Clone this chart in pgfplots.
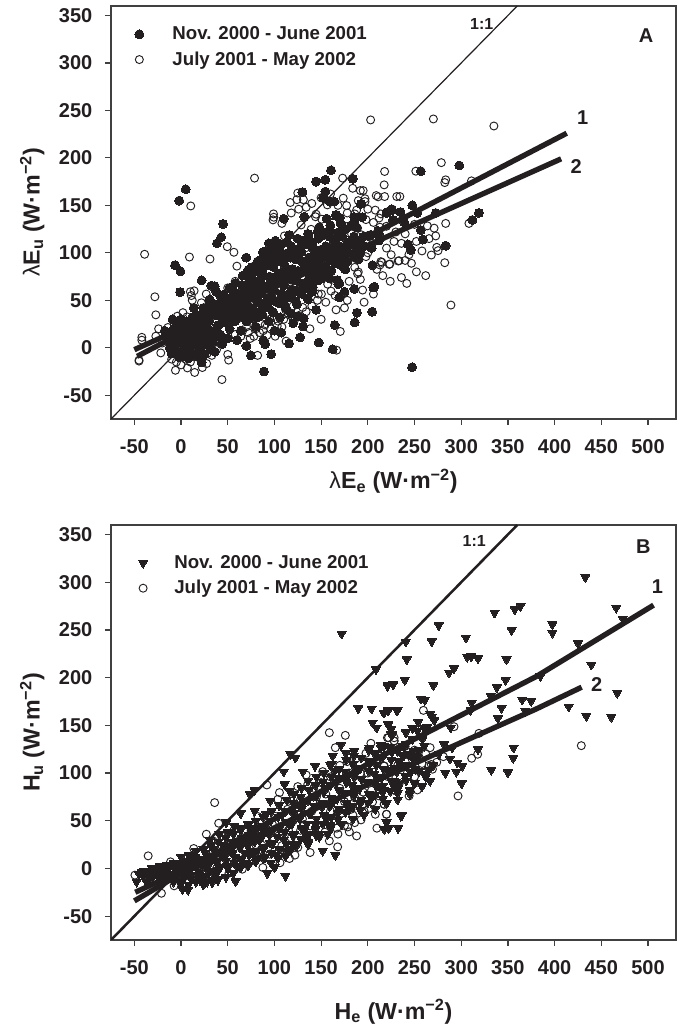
\documentclass[border=0pt]{standalone}
\usepackage{pgfplots}
\pgfplotsset{compat=1.18}
\usepackage{fontspec}
\setmainfont{Liberation Sans}
\definecolor{ink}{HTML}{231F20}
\pgfplotsset{
  panel/.style={
    scale only axis, width=423.75pt, at={(83.25pt,#1)}, anchor=south west,
    xmin=-75, xmax=530, ymin=-75, ymax=360,
    xtick={-50,0,...,500}, ytick={-50,0,...,350},
    axis line style={draw=black!75, line width=1.1pt},
    tick align=outside, tick pos=lower, major tick length=4.5pt,
    tick style={draw=black!75, line width=0.9pt},
    ticklabel style={font=\fontsize{15}{15}\selectfont\bfseries, text=ink},
    /pgf/number format/assume math mode=true,
    /pgf/number format/1000 sep={},
    xticklabel style={yshift=-7pt},
    yticklabel style={xshift=-6pt},
    clip=true,
    legend cell align=left,
    legend style={draw=none, fill=none, font=\fontsize{14}{14}\selectfont\bfseries, text=ink,
      row sep=3.5pt},
  },
  op/.style={only marks, mark=o, mark size=3pt, mark options={draw=ink, line width=0.7pt, fill=none}},
  fc/.style={only marks, mark=*, mark size=3.35pt, mark options={draw=ink, fill=ink, line width=0pt}},
  tr/.style={only marks, mark=triangle*, mark size=3.9pt, mark options={draw=ink, fill=ink, line width=0pt, rotate=180}},
}
\begin{document}
\begin{tikzpicture}[x=1pt,y=1pt]
\useasboundingbox (0,0) rectangle (508.5pt,768pt);
% ---------- Panel A ----------
\begin{axis}[panel=453.75pt, height=309.75pt,
  legend style={at={(axis cs:-54,344)}, anchor=north west},
  xlabel={\fontsize{17.4}{17}\selectfont\bfseries{\mdseries λ}E\textsubscript{e} (W·m\textsuperscript{−2})},
  ylabel={\fontsize{17.4}{17}\selectfont\bfseries{\mdseries λ}E\textsubscript{u} (W·m\textsuperscript{−2})},
  xlabel style={text=ink, yshift=-5pt}, ylabel style={text=ink, yshift=4pt},
]
\addlegendimage{fc}\addlegendentry{\hspace*{19.5pt}Nov. 2000 - June 2001}
\addlegendimage{op}\addlegendentry{\hspace*{19.5pt}July 2001 - May 2002}
\addplot[op, forget plot] coordinates {
(78.7,178.7)(203,240)(10.4,149.4)(117,153)(125,163)(124,156)(131,156)(173,178.7)(218,185.7)(217.5,171.6)
(183.8,168)(192,165.6)(195,165.6)(209,160.3)(211,159)(218,159.3)(231,159.3)(234.3,159.3)(173.7,157.6)(197,157)(197,154)
(189.8,155)(177.3,149.8)(144.6,140.7)(99.3,137.5)(208,145)(214,141)(212,136.7)(188,145)(186,141)(156.7,150.5)
(270.2,241)(335,233.6)(278.7,195)(251.4,186)(283.4,176.9)(282.4,174)(311,175.8)(308.3,131)(283.4,131)
(263.8,128.4)(271,126)(272.7,117.8)(265.6,115)(273.8,105.8)(275.2,102.3)(268,97.7)(282.4,89.6)(246.7,89)
(233.5,91.7)(223.6,88.2)(213,87.2)(215,90)(241.7,67.8)(289,45)
(-39,98.5)(9,95.6)(31,93.5)(49.5,106.5)(56.6,100.6)(59.8,86)(-28,53.7)(-27,34.7)(98.5,134.7)(99,141)(108,131)
(10,59)(14,60)(12,50)(11,55)(21.8,47.4)(27,56.6)(-4,33.3)(6.4,32.6)(-42,11)(-42,8)(-27,12.2)(-14,21.4)(-45,-14)(-45,-13)
(-21.7,-5.4)(-6,-23.7)(6.8,-21.2)(14.6,-26)(22.8,-20.8)(27.4,-16.6)(43.8,-33.5)(50,-7)(51,-13)(42,5)(41,9)(36,7)
(74,9.8)(82,-8)(100.8,12.2)(92,13)(112.5,7)(103,23)(121.4,29)(130.3,42.5)(170.5,17.2)(166.6,-2.5)
(150.3,56.6)(147,56.6)(160.6,59.7)(157,67)(161,72)(194.4,60.8)(206,56.6)(189,78)(189.8,79.8)(186,84.7)(209.7,82.6)
(214,90.7)(222.9,87.9)(232.5,91.4)(187,94)(183,100)(198,96)(76.9,81.9)(58,70)(50,63)(101,105)(110.7,117.8)
(128.6,129.4)(144,138)(150.6,135.4)(139.3,124.8)(176,128)(182.6,119.9)(193,119)(189,126)(213,127)(157,118)(133,105)
(60,30)(70,22)(75,28)(80,20)(85,26)(90,24)(95,30)(88,18)(110,30)(115,35)(66,18)(58,14)(28,8)(38,-2)(33,-8)(40,14)
(165,55)(155,48)(175,42)(180,70)(192,72)(160,85)(152,95)(200,100)(205,110)(198,135)(220,105)(225,98)(240,120)(250,130)
(170,92)(145,88)(130,75)(118,62)(100,50)(90,60)(72,48)(66,60)(60,52)(180,110)(168,118)
(-20,5)(-15,12)(-10,-12)(-5,-15)(0,-18)(5,-12)(10,-15)(18,-10)(22,-12)(28,-6)(33,-3)
(64,12)(72,16)(78,12)(84,16)(96,20)(104,28)(108,22)(126,34)(134,38)(140,44)(146,50)(112,40)(120,44)(-24,20)(2,37)(18,33)
(118,142)(126,146)(134,148)(140,152)(150,158)(160,162)(168,150)(178,142)(200,146)(206,132)(220,128)(230,122)(236,110)
(252,112)(258,102)(244,98)(228,112)(216,76)(224,70)(236,74)(240,92)(252,80)(262,76)(196,48)(178,50)(166,40)(150,30)(138,20)
};
\addplot[fc, forget plot] coordinates {
(5,167)(-2,155)(130,164)(144.5,175)(154.5,177)(160.6,187)(184,178)(154.5,164.5)(152,158)(159,154)(164,154)(192.6,151.5)
(110,136)(156,136)(166,139)(170,137)(185.5,137.6)(194,137.6)(220.8,143)(226,145)(227,134.5)(256.7,186)(298,192)(319,142)
(312,134.7)(247.7,150)(225.7,146)(220,142)(235,143)(253,142)(227,134.7)(239,132)(272.7,142)(256.7,124)(259,114)(243,109)
(246,103)(283.4,107.5)(247.4,-20.5)(45,130.4)(43,116.4)(38.5,110)(-6.4,87)(-0.6,80.5)(69.8,95)(22,71)(-1,58.7)(32.4,65.4)
(36,65)(37.8,59)(30.7,51)(13.6,42)(-9,30)(-17.4,18)(22,-15.5)(74.8,-8)(96.5,-6.7)(88.7,-25)(115.7,4.5)(147.5,5.6)(162.4,-1.5)
(127.5,11)(107.5,16)(130.7,22.5)(131.4,31)(125.4,33)(144.6,40)(164.5,24)(186,26.7)(188.4,37)(204.7,38)(205.8,63.6)(185.5,62)
(169.5,53)(175,59)(168.4,67)(167.3,71.3)(148.9,72.7)(175.6,82.6)(205,87)(156,83.7)(140.6,59)(141,64)(135.3,52)(124,45.7)
(101,112.8)(94,110)(87.6,100.6)(98,106)(166,140)(185.5,132.9)(158.8,124)(171.3,122.3)(146.3,122.3)(116,118.8)(128.6,111.8)
(128.6,106.5)(89.4,101.2)(98.3,103)(141,104.8)(150,73)(169.5,67.9)(206.9,64.3)(175.9,82.6)(164.1,104.8)(123.2,80)(112.6,95.9)
(132,138)(150,118)(136,120)(165,112)(178,108)(190,112)(200,118)(212,120)(155,100)(145,95)(175,95)(192,100)(120,100)(108,92)
(102,96)(85,92)(80,85)(72,82)(88,84)(96,88)(112,82)(104,78)(128,92)(136,86)(148,84)(162,92)(118,72)(128,68)(138,74)(110,66)
(96,72)(86,74)(76,72)(66,76)(58,68)(56,60)(68,62)(78,60)(88,62)(100,60)(114,56)(124,60)(132,64)(104,48)(92,50)(82,48)
(70,52)(60,48)(50,50)(42,46)(52,40)(62,38)(74,40)(86,40)(98,38)(112,42)(118,36)(106,32)(94,28)(82,32)(70,28)(58,28)(48,30)
(38,34)(30,38)(24,42)(18,34)(30,28)(40,24)(52,20)(64,18)(88,8)(90,4)(70,2)(60,8)(50,10)(42,14)(32,18)(100,18)
(120,26)(80,22)(-14,8)(-12,14)(-12,0)(-10,-6)(-8,20)(-6,6)(-6,-4)(-4,14)(-3,24)(-2,-10)(0,4)(0,18)(1,-4)(2,10)(3,-9)(4,24)
(6,16)(6,-2)(8,6)(8,-11)(10,12)(11,26)(12,-6)(13,2)(15,18)(16,8)(17,-9)(19,14)(20,-3)(21,24)(22,4)(24,10)(25,-7)(26,17)
(28,22)(28,3)(30,11)(32,-2)(34,6)(35,14)(38,20)(44,4)(36,-4)
(41,12)(39,23)(42,33)(40,41)(43,53)(47,27)(45,37)(48,45)(46,56)(51,25)(53,35)(50,43)(54,53)(52,63)
(57,31)(59,39)(56,51)(59,57)(63,33)(65,43)(62,55)(65,66)(69,37)(71,45)(68,57)(71,67)(70,77)
(75,31)(77,41)(74,53)(77,63)(75,75)(76,85)(81,37)(83,49)(80,61)(83,69)(81,81)(82,91)
(87,35)(89,43)(86,57)(89,65)(87,79)(88,93)(93,43)(95,53)(92,65)(95,75)(93,87)(94,97)
(99,37)(101,49)(98,63)(101,71)(99,85)(100,93)(101,105)(105,47)(107,57)(104,71)(107,79)(105,91)(106,101)(107,109)
(111,45)(113,53)(110,67)(113,75)(111,87)(112,99)(113,111)(117,53)(119,61)(116,75)(119,83)(117,95)(118,107)
(123,49)(125,59)(122,71)(125,81)(123,93)(124,103)(125,115)(129,57)(131,67)(128,81)(131,89)(129,101)(130,113)
(136,51)(135,63)(137,73)(134,85)(137,95)(135,109)(136,117)(141,67)(143,77)(140,89)(143,97)(141,111)
(147,71)(149,81)(146,93)(149,103)(147,115)(148,127)(153,77)(155,85)(152,99)(155,107)(153,121)
(159,73)(161,81)(158,95)(161,103)(159,117)(160,129)(165,89)(167,99)(164,111)(167,121)
(171,87)(173,95)(170,107)(173,117)(171,131)(178,91)(177,103)(179,111)(176,125)(184,97)(183,109)(185,117)(182,129)
(190,93)(189,105)(191,113)(188,127)(196,107)(195,117)(204,105)(203,119)(212,113)(211,123)
(0,30)(6,28)(12,32)(18,24)(24,32)(24,20)(30,45)(36,36)(36,46)(12,22)(18,28)(6,10)(0,12)(-6,12)(30,34)
};
\addplot[ink, line width=0.9pt, forget plot] coordinates {(-75,-75)(360,360)};
\addplot[ink, line width=4pt, forget plot] coordinates {(-47,-9)(413,226)};
\addplot[ink, line width=4pt, forget plot] coordinates {(-50,-2)(407,199)};
\node[font=\fontsize{12}{12}\selectfont\bfseries, text=ink] at (axis cs:322,341) {1:1};
\node[font=\fontsize{15}{15}\selectfont\bfseries, text=ink] at (axis cs:498,329) {A};
\node[font=\fontsize{15}{15}\selectfont\bfseries, text=ink] at (axis cs:430,242) {1};
\node[font=\fontsize{15}{15}\selectfont\bfseries, text=ink] at (axis cs:423,191) {2};
\end{axis}
% ---------- Panel B ----------
\begin{axis}[panel=63pt, height=311.25pt,
  legend style={at={(axis cs:-50,334)}, anchor=north west},
  xlabel={\fontsize{17.4}{17}\selectfont\bfseries H\textsubscript{e} (W·m\textsuperscript{−2})},
  ylabel={\fontsize{17.4}{17}\selectfont\bfseries H\textsubscript{u} (W·m\textsuperscript{−2})},
  xlabel style={text=ink, yshift=-12pt}, ylabel style={text=ink, yshift=4pt},
]
\addlegendimage{tr}\addlegendentry{\hspace*{18pt}Nov. 2000 - June 2001}
\addlegendimage{op}\addlegendentry{\hspace*{18pt}July 2001 - May 2002}
\addplot[op, forget plot] coordinates {
(428.6,128.7)(259.5,165.7)(292.3,148.6)(319,141.6)(311.2,115.5)(317.6,119.7)(296.6,76)(253.1,82.3)(244.2,76)(228.9,82)(233.6,89)
(217.5,67.3)(220,56.8)(266.7,126.6)(280.9,117.2)(273.8,111.3)(265.6,108.1)(269.2,104)(268,109)(237.1,120.4)(217.2,107.4)(222.2,137.1)
(228.2,133.6)(228.2,137)(242.5,100.5)(250,124)(158.8,142.3)(175.9,139.5)(-35.2,13.2)(-49.4,-7)(-21,-26)(36,69)(27.1,35.9)(40.3,47.4)
(13.6,20.9)(-11.3,6.9)(91.9,87.5)(-7.4,-18.2)(134,98)(135.7,88.2)(125,85.8)(105.4,79.5)(103.7,72.5)(117.9,70.8)(151.7,101.5)(150,90)
(138.2,16.7)(167.7,22.6)(188,34.1)(158.8,28.9)(178.4,43.5)(175,45)(180.2,38.3)(192.7,50.9)(166.7,42.2)(138.2,44.6)(147.4,34.1)
(209.7,42.2)(208,56.8)(220,56.8)(217.6,67.3)(201,63)(198,72.5)(205.1,69.7)(228.2,81.9)(217.6,107.4)(198,120.7)(203.3,131.2)(187.3,115.1)
(165.2,126.6)(221,137)(228.2,133.6)(116.1,10.4)(111.5,14.9)(87.6,1)(66.3,4.5)(65.6,-0.8)(51.3,-5)(38,0)(82.3,54.4)(56.3,39.4)(43.1,34.1)
(34.2,28.9)(70,20)(80,25)(92,30)(105,35)(118,32)(128,40)(150,50)(160,60)(175,70)(190,90)(180,100)(170,108)(145,75)(155,78)(120,50)
(110,45)(100,55)(90,42)(75,40)(60,28)(50,22)(40,15)(25,5)(15,-5)(5,-8)(-5,-2)(-15,-5)(-30,-6)(95,15)(125,22)(135,30)(210,90)(200,100)
(195,80)(172,58)(165,50)
(100,18)(108,24)(115,40)(130,52)(140,60)(148,66)(162,72)(170,84)(182,62)(186,74)(196,60)(204,82)(212,76)(222,96)(232,108)(240,112)
(250,96)(258,110)(262,120)(240,128)(214,118)(226,124)(192,100)(178,112)(160,96)(142,84)(128,72)(114,62)(98,46)(84,36)(72,34)(62,16)
(52,12)(46,6)(32,12)(20,8)(10,2)(0,2)(-10,-8)(76,8)(86,12)(106,6)(122,14)(132,46)(154,38)(168,36)(186,48)(184,56)
};
\addplot[tr, forget plot] coordinates {
(432.9,305.3)(466,273.2)(473,261.7)(363.5,275)(357.4,271.5)(335.7,268)(397.7,255.8)(397.7,247)(353.9,249.8)(305.1,241.8)(275.9,254.7)
(268.4,238)(240.7,237.6)(241.7,219.1)(306.5,221.6)(310.8,222.3)(318,220.2)(348.5,219.1)(292.3,209.7)(287,205.2)(439.3,213.5)(425.1,235.9)
(384.9,201.7)(347.5,197.5)(338.2,189.8)(331.5,180.7)(311.2,173.7)(467.1,183.9)(415.1,169.6)(434,159.8)(460.7,158.7)(365.3,176.9)(374.9,175.5)
(368.8,165)(343.2,168.2)(339.3,157.3)(310.1,166)(270.2,191.9)(239.6,197.5)(227.2,193)(221.1,191.9)(256.7,178)(261,176.5)(231.8,165.7)
(221.1,166)(216.8,163.3)(266.7,162.2)(268.4,159.1)(271.3,155.3)(253.9,153.5)(247.8,146.9)(253.1,144.1)(263.8,148.6)(260,147.5)(221.8,151.1)
(224.7,146.5)(226.4,140.6)(288.7,147.6)(240.7,142.4)(247.8,135.4)(258.5,135.4)(260.3,128.4)(281.6,130.1)(290.5,126.6)(317.9,124.9)(356,126.6)
(355.7,115.8)(244.2,119.7)(253.1,116.2)(249,118)(295.9,110.9)(301.2,107.4)(294.8,101.2)(332.2,103.2)(350,100.5)(254.9,102.2)(265,103)(261,98.7)
(246,100.5)(266.7,91.7)(300.5,89)(228.2,91.7)(231.8,83)(245,82.3)(215,86.5)(228.2,105.7)(237.1,117.9)(214,126.6)(236.4,55.8)
(172,246)(208.7,208.6)(221.1,191.2)(227.2,192.9)(189.8,167.8)(204,167.5)(217.6,163.3)(222,165.7)(231.1,165.7)(205.1,152.8)(209.4,147.6)(221.9,150.4)(224.7,145.8)
(111.8,-7.8)(92.3,-5)(100.1,1)(165.2,13.9)(151.7,18.4)(117.9,20.2)(134.6,33.1)(144.6,34.8)(157.1,35.9)(148,33)(58.4,-13.7)(39.6,-12)(33.5,-14.7)(27.8,-14)
(7.5,-22.4)(1.5,-21.7)(20,-12)(11.1,-11.3)(1.1,-13.7)(-37,-14)(-47.6,-14)(-42.3,-4.3)(217.6,41.1)(222.2,41.8)(232.5,42.2)(220,48.1)(235.4,55)(215.8,85.8)(230,90.7)
(63.8,57.5)(48.5,48.1)(50.3,37.6)(63.8,42.8)(73.4,42.8)(78.7,60.3)(91.2,56.8)(73.4,78.4)(78.7,81.9)(95.5,70.8)(110,101.5)(117.2,119.6)(122.5,116.1)(143.5,107.4)
(130.4,101.5)(161.3,109.8)(162.4,117.9)(171.3,129.4)(176.6,120.7)(185.5,123.1)(164.2,102.2)(110.8,88.2)(116.1,81.2)(201.6,126.6)(206.9,120.7)(214,129)(217.6,128.4)(224.7,140.6)
(-45,-6)(-40,-3)(-35,-3)(-30,-2)(-25,-4)(-22,-2)(-18,-6)(-15,-1)(-12,2)(-9,-6)(-6,2)(-3,-3)(0,6)(2,-8)(4,1)(7,8)(9,-3)(12,5)(15,12)(18,2)(20,-5)(23,10)(26,16)(28,3)(30,-4)
(33,10)(35,20)(38,6)(40,-2)(43,14)(45,24)(48,8)(50,0)(53,18)(55,28)(58,12)(60,2)(63,22)(66,32)(68,16)(70,6)(73,26)(76,38)(78,18)(80,10)(84,30)(86,44)(88,20)(90,12)
(94,36)(96,50)(98,26)(102,14)(105,42)(108,56)(110,30)(113,18)(116,46)(118,60)(120,34)(124,24)(127,52)(130,66)(132,40)(136,28)(139,58)(142,76)(144,46)(148,36)(151,64)
(154,84)(156,52)(160,42)(163,70)(166,90)(168,58)(172,46)(175,78)(178,96)(180,62)(184,52)(187,84)(190,104)(192,68)(196,56)(199,90)(202,110)(204,74)(208,62)(211,96)
(214,116)(216,80)(220,68)(223,102)(226,122)(228,86)(232,72)(235,108)(238,128)(241,92)(245,78)(250,112)(255,124)(258,86)(262,96)(270,108)(276,120)(283,100)(288,115)(-30,-8)(-20,-12)(-8,-12)(-26,0)(22,-8)(36,-6)
(-40,-9)(-33,-11)(-32,-5)(-31,0)(-24,-10)(-25,-5)(-23,2)(-16,-11)(-17,-3)(-15,4)(-8,-14)(-9,-7)(-7,0)(-8,6)(0,-16)(1,-9)(-1,-2)(1,5)(0,12)
(8,-17)(9,-8)(7,1)(9,7)(8,14)(16,-14)(17,-7)(15,3)(17,10)(16,18)(24,-17)(25,-8)(23,2)(25,9)(24,20)(32,-12)(33,-3)(31,6)(33,13)(32,24)(31,30)
(40,-11)(41,1)(39,8)(41,17)(40,28)(41,36)(48,-9)(49,2)(47,12)(49,21)(48,32)(56,-5)(57,6)(55,16)(57,25)(56,36)(57,44)(64,1)(65,10)(63,23)(65,32)(64,40)
(72,3)(73,14)(71,24)(73,35)(72,46)(80,7)(81,18)(79,28)(81,41)(80,50)(88,11)(89,22)(87,34)(89,43)(88,54)(96,6)(97,16)(95,27)(97,38)(96,50)(97,60)
(104,11)(105,20)(103,33)(105,41)(104,54)(105,66)(112,13)(113,26)(111,38)(113,49)(112,60)(113,72)(120,25)(121,36)(119,47)(121,58)(120,69)(121,78)
(128,31)(129,42)(127,53)(129,62)(128,75)(129,84)(136,25)(137,36)(135,47)(137,58)(136,71)(137,82)(136,92)(144,41)(145,52)(143,65)(145,76)(144,87)(145,96)
(152,47)(153,56)(151,69)(153,80)(152,91)(153,100)(160,45)(161,54)(159,65)(161,74)(160,87)(161,96)(160,108)(168,51)(169,62)(167,73)(169,82)(168,95)(169,104)
(176,59)(177,68)(175,79)(177,90)(176,101)(177,114)(184,65)(185,76)(183,87)(185,96)(184,109)(185,118)(192,61)(193,72)(191,83)(193,94)(192,105)(193,116)
(200,69)(201,78)(199,91)(201,102)(200,113)(201,124)(208,77)(209,86)(207,99)(209,108)(208,121)(216,73)(217,82)(215,95)(217,104)(216,117)(217,128)
(224,81)(225,92)(223,103)(225,114)(224,127)(232,79)(233,88)(231,101)(233,112)(232,123)(240,97)(241,108)(239,119)(241,130)(250,89)(251,104)(249,123)
};
\addplot[ink, line width=1.9pt, forget plot] coordinates {(-75,-75)(360,360)};
\addplot[ink, line width=4pt, forget plot] coordinates {(-50,-34)(212,116.5)(380,201)(506,276)};
\addplot[ink, line width=4pt, forget plot] coordinates {(-49,-25)(212,93.5)(380,167)(429,190)};
\node[font=\fontsize{12}{12}\selectfont\bfseries, text=ink] at (axis cs:314,343) {1:1};
\node[font=\fontsize{15}{15}\selectfont\bfseries, text=ink] at (axis cs:495,337) {B};
\node[font=\fontsize{15}{15}\selectfont\bfseries, text=ink] at (axis cs:510,295) {1};
\node[font=\fontsize{15}{15}\selectfont\bfseries, text=ink] at (axis cs:445,193) {2};
\end{axis}
\end{tikzpicture}
\end{document}
